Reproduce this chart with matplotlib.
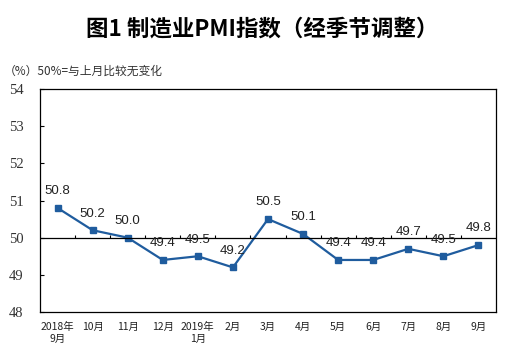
import matplotlib
matplotlib.use("Agg")
import matplotlib.pyplot as plt

# 数据
months = ["2018年\n9月", "10月", "11月", "12月", "2019年\n1月", "2月", "3月",
          "4月", "5月", "6月", "7月", "8月", "9月"]
pmi = [50.8, 50.2, 50.0, 49.4, 49.5, 49.2, 50.5, 50.1, 49.4, 49.4, 49.7, 49.5, 49.8]
y_ticks = [48, 49, 50, 51, 52, 53, 54]

plt.rcParams['font.family'] = ['Noto Sans CJK SC', 'DejaVu Sans']

fig = plt.figure(figsize=(5.2, 3.51), dpi=100)
ax = fig.add_axes([40/520, 1-312/351, 456/520, 223/351])

x = list(range(len(months)))
ax.plot(x, pmi, color='#1f5c9e', linewidth=1.6, marker='s', markersize=4)

for i, v in enumerate(pmi):
    ax.annotate(f"{v:.1f}", (i, v), xytext=(0, 12), textcoords='offset points',
                ha='center', va='center', fontsize=9.5, family='Liberation Sans',
                color='#222222')

# 50 参考线及其刻度
ax.axhline(50, color='black', linewidth=0.9)
ax.vlines([i + 0.5 for i in x[:-1]], 50, 50.07, color='black', linewidth=0.8)

ax.set_xlim(-0.5, len(months) - 0.5)
ax.set_ylim(48, 54)
ax.set_yticks(y_ticks)
ax.set_yticklabels([str(t) for t in y_ticks], family='Liberation Serif', fontsize=10.5,
                   color='#333333')
ax.set_xticks(x)
ax.set_xticklabels(months, fontsize=7.5, color='#222222', linespacing=1.3)
ax.tick_params(axis='x', length=0, pad=7)
ax.tick_params(axis='y', direction='in', length=3, pad=12)
for s in ax.spines.values():
    s.set_linewidth(0.9)

fig.text(0.504, 1-29/351, "图1 制造业PMI指数（经季节调整）", ha='center', va='center',
         fontsize=16.2, fontweight='bold')
fig.text(4/520, 1-71/351, "（%）50%=与上月比较无变化", ha='left', va='center',
         fontsize=8.5, color='#333333')

fig.savefig("out.png", dpi=100)
